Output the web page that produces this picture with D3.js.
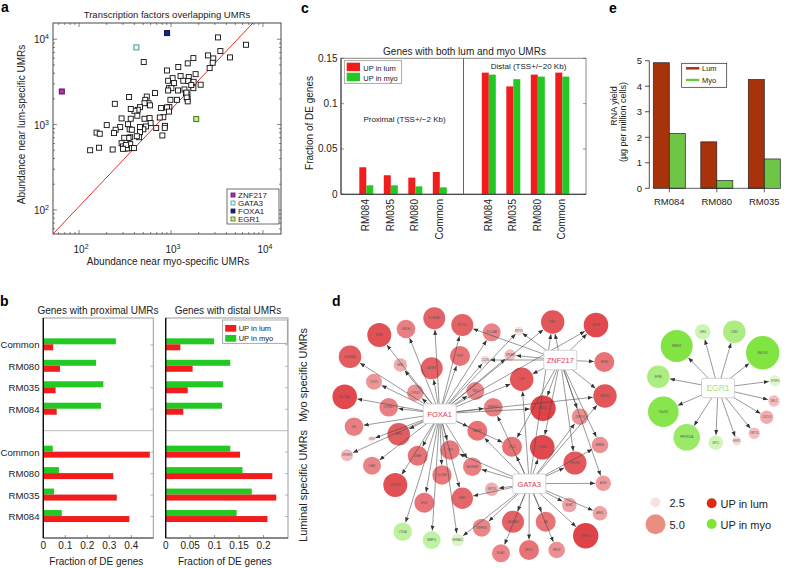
<!DOCTYPE html>
<html><head><meta charset="utf-8">
<script src="https://cdn.jsdelivr.net/npm/d3@7"></script>
<style>
body{margin:0;background:#fff}
svg{display:block}
text{font-family:"Liberation Sans",Arial,Helvetica,sans-serif}
</style>
</head><body>
<svg id="fig" width="788" height="568"></svg>
<script>
// ================= DATA =================
// Panel a: TF abundance near myo-specific (x) vs lum-specific (y) UMRs
const tfPoints = [
[3240,10500],[6530,8610],[3440,7260],[2520,6460],[2880,5960],[2840,5300],[4380,6120],[2630,4590],
[1750,6010],[1520,5210],[1200,4720],[905,4300],[505,5400],[2100,2930],[1850,3900],[1560,3600],
[1270,3700],[1040,3500],[930,3260],[1080,3060],[1360,3260],[1540,3230],[1760,3170],[1750,2670],
[950,2670],[1010,2670],[1190,2510],[1400,2580],[1455,2340],[1510,2260],[1510,2000],[1520,1870],
[1160,1950],[985,1950],[960,1600],[905,1590],[950,1420],[780,1560],[825,1220],[670,2340],
[545,2130],[525,1950],[570,1780],[590,1680],[515,1780],[460,1600],[435,1490],[400,1450],
[430,1270],[350,2100],[245,1750],[365,1520],[290,1180],[365,1170],[515,1170],[585,1190],
[600,1040],[535,950],[500,880],[690,910],[755,1210],[860,965],[855,915],[805,745],
[340,1010],[355,880],[375,870],[460,935],[460,815],[450,710],[360,710],[345,695],
[310,700],[280,935],[250,870],[240,795],[200,985],[155,805],[168,780],[132,500],
[165,535],[232,510],[290,605],[300,555],[315,525],[335,525],[360,590],[375,530],
[395,530],[325,575],[300,520],[425,730],[930,2510],[1660,2900],[1480,2100],[1470,2370]
];
const tfNames  = ["ZNF217","GATA3","FOXA1","EGR1"];
const tfX      = [65, 420, 906, 1880];
const tfY      = [2440, 8020, 11800, 1160];
const tfFill   = ["#B22FB0","#E6F7F5","#1B2488","#C9E98F"];
const tfStroke = ["#5E1060","#3E9F98","#0E154F","#3F7A12"];
const aDiag    = [[52.1,52.2],[7780,15490]];
const aMajor   = [100,1000,10000];
const aExp     = ["2","3","4"];

// Panel b: fraction of DE genes
const bCats = ["Common","RM080","RM035","RM084"];
const bProxMyoLum = [0.045,0.076,0.056,0.061];
const bProxMyoMyo = [0.330,0.240,0.273,0.262];
const bProxLumLum = [0.484,0.318,0.334,0.391];
const bProxLumMyo = [0.043,0.071,0.049,0.084];
const bDistMyoLum = [0.030,0.055,0.045,0.036];
const bDistMyoMyo = [0.099,0.132,0.117,0.115];
const bDistLumLum = [0.152,0.218,0.226,0.208];
const bDistLumMyo = [0.132,0.157,0.176,0.145];
const bTicksL = [0,0.1,0.2,0.3,0.4];
const bTicksR = [0,0.05,0.1,0.15,0.2];

// Panel c
const cCats = ["RM084","RM035","RM080","Common"];
const cProxLum = [0.0298,0.0210,0.0184,0.0246];
const cProxMyo = [0.0099,0.0099,0.0088,0.0077];
const cDistLum = [0.1342,0.1190,0.1320,0.1342];
const cDistMyo = [0.1320,0.1270,0.1298,0.1298];
const cTicks = [0,0.05,0.1,0.15];

// Panel e
const eCats = ["RM084","RM080","RM035"];
const eLum = [4.92,1.82,4.26];
const eMyo = [2.15,0.30,1.15];
const eTicks = [0,1,2,3,4,5];

// Panel d: network (layout positions in panel units, value = fold change, group)
const dHubs = ["FOXA1","ZNF217","GATA3","EGR1"];
const dHubX = [149.7,270.3,239.3,428];
const dHubY = [163.7,110,233.7,138];
const dNodeNames = ["SCGB2A1","PTCSC","LIMCH1","RGS2","SLC24A3","KRT18","BATF","SCGB3A1","NEBL","AZGP1",
"PIGT","CLDN","SPDEF","TCF21","CYP4X1","TBX3","LRH","SLC44A4","CYP2B7","MRPS23",
"MBNL1","IGF","GRHL","CHI3","RASEF","SPDEF2","CHAC","DNAH","TFF1","STC2",
"CYB5A","SELENBP","SCUBE","CYP4F22","KRT19","MSX2","ESR1","CT45A","MMP10","SEMA3C",
"TMPRSS","CACNA1D","AR","ELAVL","KRT15","RHOV","AGR2","DHCR24","MLPH","SPINK",
"ANKRD","ZNF703","ERBB4","ADH1","ARMC","ZNF552","DOC2",
"RBMS3","LMF4","CNN1","EMILIN1","EFNB","NTNF3","BBL2","CXCL3","KRT16","FNIP1","GPC1","PPP1R14A","C8orf33"];
const dNodeX = [144.3,172.3,116,89.3,201.7,228.7,262.7,60,110.3,141.7,
170,195.3,220,84,125.3,185.3,231.7,54.7,98.7,203.3,
253,64,108.7,81.7,187.3,57,82,127.7,160,222,
252.3,182.3,152,105.3,201.7,134.3,172.3,112.7,141.7,167.7,
191.7,223,255.7,211,239,266.7,279.3,285,306,314.3,
315,290,310,313.3,310,295.7,306,
386.7,412.7,444.3,472.7,368.3,485,484,476.7,464.3,446.7,425.7,396.7,373.3];
const dNodeY = [68.3,75,79,85,82.3,80.7,72,106.7,115,118.3,
106,110,105,131.7,142.7,141,129.3,146.7,157.3,157.3,
158.3,176.7,184.3,189.3,180.7,205.3,215.7,205.7,200,196.7,
197.3,216.7,225,235,239.3,252.7,248.3,281.7,290,290,
277.7,271.7,271.7,303.3,300,300,255,213,75,112,
146,166.7,195,233.3,263.3,285.7,75,
96,81.7,81.7,102.7,126.7,130.7,151,167.3,183.3,191,192.7,187.3,161.7];
const dNodeVal = [5.5,5.5,4.65,6,4.5,2,5.85,5.65,3.35,5.5,
5,2.15,2.85,4,4.15,4.5,5.85,6.15,4.65,4.65,
6.35,4.65,5.65,1.65,5,3,4.5,5,4.85,5,
6.15,4.65,4.85,6,3.35,5,5.35,4.65,4.5,3.15,
4.5,5.5,5,4.5,5,4.15,3.65,5.75,6.15,5,
5.85,4.15,4.15,3.85,3.65,6.35,0,
8,3.85,5.65,8.35,5.65,2.85,2.85,3.35,2.85,2.15,3.65,6.65,7.65];
const dNodeUp = ["lum","lum","lum","lum","lum","lum","lum","lum","lum","lum",
"lum","lum","lum","lum","lum","lum","lum","lum","lum","lum",
"lum","lum","lum","lum","lum","lum","lum","lum","lum","lum",
"lum","lum","lum","lum","lum","lum","lum","myo","myo","myo",
"lum","lum","lum","lum","lum","lum","lum","lum","lum","lum",
"lum","lum","lum","lum","lum","lum","none",
"myo","myo","myo","myo","myo","myo","lum","lum","lum","lum","myo","myo","myo"];
// edges: hub index -> node indices
const dEdgesFOXA1  = [0,1,2,3,4,5,6,7,8,9,10,11,12,13,14,15,16,17,18,19,20,21,22,23,24,25,26,27,28,29,31,32,33,35,36,37,38,39,48,50];
const dEdgesZNF217 = [5,6,11,12,16,20,30,29,47,48,49,50,51,52,53,1];
const dEdgesGATA3  = [19,24,28,29,30,31,34,36,39,40,41,42,43,44,45,46,47,51,52,53,54,55,16,6,50];
const dEdgesEGR1   = [57,58,59,60,61,62,63,64,65,66,67,68,69];
const dSizeKey = [2.5,5.0];

// ================= DRAWING =================
const svg = d3.select("#fig");
const RED = "#F11D1D", GREEN = "#22C922";

function label(g, x, y, s, size, anchor="start", weight="normal", rot=0, fill="#222") {
  const t = g.append("text").attr("font-size", size).attr("text-anchor", anchor)
    .attr("font-weight", weight).attr("fill", fill).text(s);
  if (rot) t.attr("transform", `translate(${x},${y}) rotate(${rot})`);
  else t.attr("x", x).attr("y", y);
  return t;
}

// ---------- Panel a ----------
(function(){
  const g = svg.append("g");
  const x = d3.scaleLog().domain([52.1, 15700]).range([53, 281]);
  const y = d3.scaleLog().domain([52.2, 15490]).range([234, 23]);
  const [x0,x1] = x.range(), [y0,y1] = [y.range()[1], y.range()[0]];
  label(g, 1, 12, "a", 14, "start", "bold", 0, "#000");
  label(g, (x0+x1)/2, 18, "Transcription factors overlapping UMRs", 9.5, "middle");
  g.append("defs").append("clipPath").attr("id","clipA").append("rect")
    .attr("x",x0).attr("y",y0).attr("width",x1-x0).attr("height",y1-y0);
  const minors = [];
  [10,100,1000,10000].forEach(d => { for (let k=1;k<10;k++){ const v=d*k; if (v>=52.1 && v<=15500) minors.push(v);} });
  minors.forEach(v => {
    const big = aMajor.includes(v); const L = big?4:2;
    g.append("line").attr("x1",x(v)).attr("x2",x(v)).attr("y1",y1).attr("y2",y1-L).attr("stroke","#333").attr("stroke-width",0.6);
    g.append("line").attr("x1",x(v)).attr("x2",x(v)).attr("y1",y0).attr("y2",y0+L).attr("stroke","#333").attr("stroke-width",0.6);
    g.append("line").attr("y1",y(v)).attr("y2",y(v)).attr("x1",x0).attr("x2",x0+L).attr("stroke","#333").attr("stroke-width",0.6);
    g.append("line").attr("y1",y(v)).attr("y2",y(v)).attr("x1",x1).attr("x2",x1-L).attr("stroke","#333").attr("stroke-width",0.6);
  });
  aMajor.forEach((v,i) => {
    const t = g.append("text").attr("x", x(v)+2).attr("y", 253).attr("text-anchor","middle").attr("font-size",10).attr("fill","#222");
    t.append("tspan").text("10"); t.append("tspan").attr("dy",-4).attr("font-size",7).text(aExp[i]);
    const t2 = g.append("text").attr("x", 49).attr("y", y(v)+4).attr("text-anchor","end").attr("font-size",10).attr("fill","#222");
    t2.append("tspan").text("10"); t2.append("tspan").attr("dy",-4).attr("font-size",7).text(aExp[i]);
  });
  label(g, (x0+x1)/2+1, 265, "Abundance near myo-specific UMRs", 10, "middle");
  label(g, 25, (y0+y1)/2-4, "Abundance near lum-specific UMRs", 10, "middle", "normal", -90);
  g.append("line").attr("clip-path","url(#clipA)")
    .attr("x1", x(aDiag[0][0])).attr("y1", y(aDiag[0][1]))
    .attr("x2", x(aDiag[1][0])).attr("y2", y(aDiag[1][1]))
    .attr("stroke","#E0312F").attr("stroke-width",1);
  const s = 5;
  g.selectAll("rect.pt").data(tfPoints).join("rect").attr("class","pt")
    .attr("x", d => x(d[0])-s/2).attr("y", d => y(d[1])-s/2).attr("width",s).attr("height",s)
    .attr("fill","#fff").attr("stroke","#111").attr("stroke-width",0.9);
  g.selectAll("rect.hl").data(tfNames).join("rect").attr("class","hl")
    .attr("x",(d,i)=>x(tfX[i])-s/2).attr("y",(d,i)=>y(tfY[i])-s/2).attr("width",s).attr("height",s)
    .attr("fill",(d,i)=>tfFill[i]).attr("stroke",(d,i)=>tfStroke[i]).attr("stroke-width",1);
  g.append("rect").attr("x",x0).attr("y",y0).attr("width",x1-x0).attr("height",y1-y0)
    .attr("fill","none").attr("stroke","#333").attr("stroke-width",0.9);
  const lx = 227, ly = 189;
  g.append("rect").attr("x",lx).attr("y",ly).attr("width",52).attr("height",35).attr("fill","#fff").attr("stroke","#333").attr("stroke-width",0.7);
  tfNames.forEach((n,i) => {
    const yy = ly + 6 + i*8;
    g.append("rect").attr("x",lx+4).attr("y",yy-2).attr("width",4).attr("height",4)
      .attr("fill",tfFill[i]).attr("stroke",tfStroke[i]).attr("stroke-width",0.8);
    label(g, lx+11, yy+3, n, 8, "start");
  });
})();

// ---------- Panel b ----------
(function(){
  const g = svg.append("g");
  const y = d3.scaleLinear().domain([-1.25, 9]).range([318, 538]);
  const xL = d3.scaleLinear().domain([0, 0.5]).range([43.3, 153.3]);
  const xR = d3.scaleLinear().domain([0, 0.25]).range([165.7, 288]);
  label(g, 0, 306, "b", 14, "start", "bold", 0, "#000");
  label(g, 98, 314, "Genes with proximal UMRs", 10, "middle");
  label(g, 228, 314, "Genes with distal UMRs", 10, "middle");
  const panels = [
    {x:xL, ticks:bTicksL, uL:bProxMyoLum, uM:bProxMyoMyo, lL:bProxLumLum, lM:bProxLumMyo},
    {x:xR, ticks:bTicksR, uL:bDistMyoLum, uM:bDistMyoMyo, lL:bDistLumLum, lM:bDistLumMyo}
  ];
  const [yt, yb] = [y.range()[0], y.range()[1]];
  panels.forEach(p => {
    const [a, b] = p.x.range();
    g.append("rect").attr("x",a).attr("y",yt).attr("width",b-a).attr("height",yb-yt)
      .attr("fill","none").attr("stroke","#999").attr("stroke-width",1);
    g.append("line").attr("x1",a).attr("x2",b).attr("y1",y(4)).attr("y2",y(4)).attr("stroke","#bbb").attr("stroke-width",1);
    bCats.forEach((c,i) => {
      [i, i+5].forEach(k => {
        g.append("line").attr("x1",b).attr("x2",b-3).attr("y1",y(k)).attr("y2",y(k)).attr("stroke","#999").attr("stroke-width",0.7);
      });
      const rows = [[i, p.uM[i], p.uL[i]], [i+5, p.lM[i], p.lL[i]]];
      rows.forEach(([k, vm, vl]) => {
        const yc = y(k) - 0.5;
        g.append("rect").attr("x",a).attr("y",yc-6).attr("width",p.x(vm)-a).attr("height",6).attr("fill",GREEN);
        g.append("rect").attr("x",a).attr("y",yc).attr("width",p.x(vl)-a).attr("height",6).attr("fill",RED);
      });
    });
    p.ticks.forEach(t => {
      g.append("line").attr("x1",p.x(t)).attr("x2",p.x(t)).attr("y1",yb).attr("y2",yb-3).attr("stroke","#666").attr("stroke-width",0.7);
      label(g, p.x(t), 549, String(t), 10, "middle");
    });
    g.append("line").attr("x1",a).attr("x2",a).attr("y1",yt).attr("y2",yb).attr("stroke","#111").attr("stroke-width",1.4);
    g.append("line").attr("x1",a).attr("x2",b).attr("y1",yb).attr("y2",yb).attr("stroke","#444").attr("stroke-width",1);
    label(g, (a+b)/2 - 2, 565, "Fraction of DE genes", 10, "middle");
  });
  bCats.forEach((c,i) => {
    label(g, 39.5, y(i)+3.5, c, 9.6, "end");
    label(g, 39.5, y(i+5)+3.5, c, 9.6, "end");
  });
  const lx = 222.7, ly = 320;
  g.append("rect").attr("x",lx).attr("y",ly).attr("width",64.6).attr("height",23.3).attr("fill","#fff").attr("stroke","#888").attr("stroke-width",0.7);
  g.append("rect").attr("x",lx+2.5).attr("y",ly+5).attr("width",11).attr("height",6.7).attr("fill",RED);
  g.append("rect").attr("x",lx+2.5).attr("y",ly+15).attr("width",11).attr("height",6.7).attr("fill",GREEN);
  label(g, lx+16, ly+11, "UP in lum", 7.5);
  label(g, lx+16, ly+21, "UP in myo", 7.5);
})();

// ---------- Panel c ----------
(function(){
  const g = svg.append("g");
  const x = d3.scaleLinear().domain([-1, 9]).range([341, 586]);
  const y = d3.scaleLinear().domain([0, 0.15]).range([194.3, 58.3]);
  const [x0,x1] = x.range(), [yb,yt] = y.range();
  label(g, 301, 13, "c", 14, "start", "bold", 0, "#000");
  label(g, (x0+x1)/2 + 1, 55, "Genes with both lum and myo UMRs", 10, "middle");
  g.append("rect").attr("x",x0).attr("y",yt).attr("width",x1-x0).attr("height",yb-yt)
    .attr("fill","none").attr("stroke","#888").attr("stroke-width",1);
  g.append("line").attr("x1",x(4)).attr("x2",x(4)).attr("y1",yt).attr("y2",yb).attr("stroke","#666").attr("stroke-width",1);
  cTicks.forEach(t => {
    g.append("line").attr("x1",x0).attr("x2",x0+3).attr("y1",y(t)).attr("y2",y(t)).attr("stroke","#666").attr("stroke-width",0.7);
    g.append("line").attr("x1",x1).attr("x2",x1-3).attr("y1",y(t)).attr("y2",y(t)).attr("stroke","#666").attr("stroke-width",0.7);
    label(g, 337.5, y(t)+3.5, String(t), 10, "end");
  });
  const groups = [[0, cProxLum, cProxMyo], [5, cDistLum, cDistMyo]];
  groups.forEach(([off, L, M]) => {
    cCats.forEach((c,i) => {
      const cx = x(i+off) + 0.8;
      g.append("rect").attr("x",cx-7).attr("y",y(L[i])).attr("width",7).attr("height",yb-y(L[i])).attr("fill",RED);
      g.append("rect").attr("x",cx).attr("y",y(M[i])).attr("width",7).attr("height",yb-y(M[i])).attr("fill",GREEN);
      label(g, x(i+off)+3.5, 199, c, 10, "end", "normal", -90);
    });
  });
  g.append("line").attr("x1",x0).attr("x2",x1).attr("y1",yb).attr("y2",yb).attr("stroke","#333").attr("stroke-width",1);
  g.append("line").attr("x1",x0).attr("x2",x0).attr("y1",yt).attr("y2",yb).attr("stroke","#333").attr("stroke-width",1);
  label(g, 313, 123, "Fraction of DE genes", 10, "middle", "normal", -90);
  label(g, 404.5, 122, "Proximal (TSS+/\u22122 Kb)", 8, "middle");
  label(g, 528.5, 69, "Distal (TSS+/\u221220 Kb)", 8, "middle");
  g.append("rect").attr("x",344.3).attr("y",60.7).attr("width",57.4).attr("height",22.6).attr("fill","#fff").attr("stroke","#888").attr("stroke-width",0.7);
  g.append("rect").attr("x",346.7).attr("y",62.7).attr("width",13.3).attr("height",8.5).attr("fill",RED);
  g.append("rect").attr("x",346.7).attr("y",72.7).attr("width",13.3).attr("height",8.5).attr("fill",GREEN);
  label(g, 363.3, 70.5, "UP in lum", 7.5);
  label(g, 363.3, 81, "UP in myo", 7.5);
})();

// ---------- Panel e ----------
(function(){
  const g = svg.append("g");
  const LUM = "#A8320A", MYO = "#6DC645";
  const x = d3.scalePoint().domain(eCats).range([669.3, 764.3]);
  const y = d3.scaleLinear().domain([0, 5]).range([188.3, 60.7]);
  const bw = 16;
  label(g, 609, 13, "e", 14, "start", "bold", 0, "#000");
  eCats.forEach((c,i) => {
    const cx = x(c);
    g.append("rect").attr("x",cx-bw).attr("y",y(eLum[i])).attr("width",bw).attr("height",y(0)-y(eLum[i]))
      .attr("fill",LUM).attr("stroke","#222").attr("stroke-width",0.7);
    g.append("rect").attr("x",cx).attr("y",y(eMyo[i])).attr("width",bw).attr("height",y(0)-y(eMyo[i]))
      .attr("fill",MYO).attr("stroke","#222").attr("stroke-width",0.7);
    g.append("line").attr("x1",cx).attr("x2",cx).attr("y1",y(0)).attr("y2",y(0)+4).attr("stroke","#222").attr("stroke-width",0.7);
    label(g, cx, 205, c, 9.5, "middle");
  });
  g.append("line").attr("x1",x(eCats[0])).attr("x2",x(eCats[2])).attr("y1",y(0)).attr("y2",y(0)).attr("stroke","#222").attr("stroke-width",0.7);
  g.append("line").attr("x1",649.3).attr("x2",649.3).attr("y1",y(0)).attr("y2",y(5)).attr("stroke","#222").attr("stroke-width",0.8);
  eTicks.forEach(t => {
    g.append("line").attr("x1",649.3).attr("x2",645).attr("y1",y(t)).attr("y2",y(t)).attr("stroke","#222").attr("stroke-width",0.8);
    label(g, 642, y(t)+3.5, String(t), 9.5, "end");
  });
  label(g, 616.5, 106, "RNA yield", 9, "middle", "normal", -90);
  label(g, 626, 122, "(\u00b5g per million cells)", 9, "middle", "normal", -90);
  g.append("rect").attr("x",681.7).attr("y",63.3).attr("width",45).attr("height",24).attr("fill","#fff").attr("stroke","#222").attr("stroke-width",0.7);
  g.append("line").attr("x1",686).attr("x2",699.3).attr("y1",68.3).attr("y2",68.3).attr("stroke",LUM).attr("stroke-width",2.5);
  g.append("line").attr("x1",686).attr("x2",699.3).attr("y1",80).attr("y2",80).attr("stroke",MYO).attr("stroke-width",2.5);
  label(g, 702, 71, "Lum", 7.5);
  label(g, 702, 83, "Myo", 7.5);
})();

// ---------- Panel d ----------
(function(){
  const g = svg.append("g");
  const x = d3.scaleLinear().domain([0, 500]).range([290, 790]);
  const y = d3.scaleLinear().domain([0, 318]).range([250, 568]);
  const r = d3.scaleLinear().domain([0, 5]).range([0, 10]);
  const redC = d3.scaleLinear().domain([1.5, 6.5]).range(["#FCEDED", "#DE3E43"]).interpolate(d3.interpolateRgb).clamp(true);
  const grnC = d3.scaleLinear().domain([2, 8]).range(["#EEFCE4", "#82E443"]).interpolate(d3.interpolateRgb).clamp(true);
  const col = i => dNodeUp[i] === "myo" ? grnC(dNodeVal[i]) : redC(dNodeVal[i]);
  label(g, 332, 306, "d", 14, "start", "bold", 0, "#000");
  label(g, 307, 375, "Myo specific UMRs", 11, "middle", "normal", -90);
  label(g, 307, 486, "Luminal specific UMRs", 11, "middle", "normal", -90);

  svg.append("defs").append("marker").attr("id","arr").attr("viewBox","0 -3 6 6")
    .attr("refX",6).attr("refY",0).attr("markerWidth",5).attr("markerHeight",5)
    .attr("markerUnits","userSpaceOnUse").attr("orient","auto")
    .append("path").attr("d","M0,-2.4L6,0L0,2.4Z").attr("fill","#333");

  const idx = d3.range(dNodeNames.length).filter(i => dNodeVal[i] > 0);
  g.selectAll("circle.nd").data(idx).join("circle").attr("class","nd")
    .attr("cx", i => x(dNodeX[i])).attr("cy", i => y(dNodeY[i])).attr("r", i => r(dNodeVal[i]))
    .attr("fill", i => col(i));
  g.selectAll("text.nd").data(idx).join("text").attr("class","nd")
    .attr("x", i => x(dNodeX[i])).attr("y", i => y(dNodeY[i]) + 1)
    .attr("text-anchor","middle").attr("font-size",2.6).attr("fill","#555")
    .text(i => dNodeNames[i]);
  const edgeSets = [dEdgesFOXA1, dEdgesZNF217, dEdgesGATA3, dEdgesEGR1];
  const edges = [];
  edgeSets.forEach((set,h) => set.forEach(n => edges.push([h,n])));
  g.selectAll("line.ed").data(edges).join("line").attr("class","ed")
    .each(function([h,n]){
      const hx = x(dHubX[h]), hy = y(dHubY[h]), nx = x(dNodeX[n]), ny = y(dNodeY[n]);
      const dx = nx-hx, dy = ny-hy, L = Math.hypot(dx,dy), rr = r(dNodeVal[n]) + 0.5;
      d3.select(this).attr("x1",hx).attr("y1",hy).attr("x2",nx-dx/L*rr).attr("y2",ny-dy/L*rr);
    })
    .attr("stroke","#444").attr("stroke-width",0.55).attr("marker-end","url(#arr)");
  dHubs.forEach((hn,h) => {
    const w = 33, hh = 19.5;
    g.append("rect").attr("x",x(dHubX[h])-w/2).attr("y",y(dHubY[h])-hh/2).attr("width",w).attr("height",hh)
      .attr("rx",2).attr("fill","#fff").attr("stroke","#C8C8C8").attr("stroke-width",0.8);
    label(g, x(dHubX[h]), y(dHubY[h])+3, hn, h===3?8.5:7.5, "middle", "normal", 0, h===3 ? "#A9E36F" : "#E23A43");
  });
  dSizeKey.forEach((v,i) => {
    const yy = 502.3 + i*22;
    g.append("circle").attr("cx",655.5).attr("cy",yy).attr("r",r(v)).attr("fill", i===0 ? "#FBE2E2" : "#EA8F7F");
    label(g, 669.5, yy+4.5, v.toFixed(1), 11, "start");
  });
  g.append("circle").attr("cx",711.7).attr("cy",503.3).attr("r",5).attr("fill","#D92E10");
  g.append("circle").attr("cx",711.7).attr("cy",524).attr("r",5).attr("fill","#7FE535");
  label(g, 720.5, 507.5, "UP in lum", 11, "start");
  label(g, 720.5, 528.5, "UP in myo", 11, "start");
})();
</script>
</body></html>
